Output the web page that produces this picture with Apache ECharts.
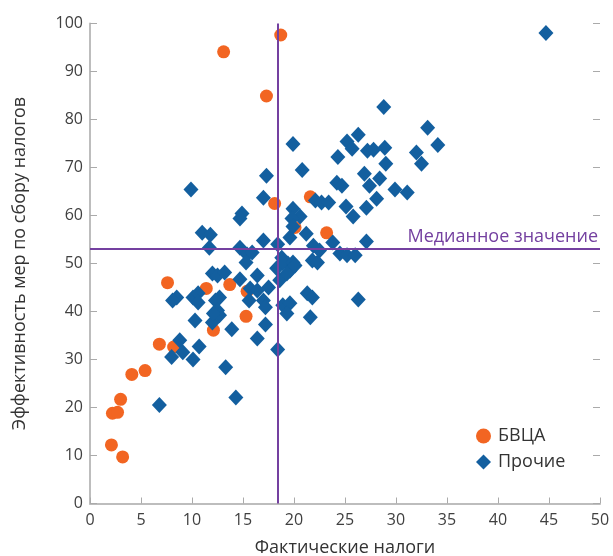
<!DOCTYPE html>
<html><head><meta charset="utf-8">
<script src="https://cdn.jsdelivr.net/npm/echarts@6/dist/echarts.min.js"></script>
<style>html,body{margin:0;padding:0;background:#fff}#c{width:613px;height:556px}</style>
</head><body><div id="c"></div>
<script>
const seriesNames = ['БВЦА', 'Прочие'];
const bvcaPoints = [
  [13.1,94.1],[18.7,97.6],[17.3,84.9],[18.1,62.5],[21.6,63.9],[20.1,57.5],[23.2,56.4],
  [7.6,46.0],[11.4,44.8],[13.7,45.6],[15.4,44.2],[15.3,39.0],[12.1,36.1],[6.8,33.2],
  [8.2,32.6],[4.1,26.9],[5.4,27.7],[3.0,21.7],[2.2,18.8],[2.7,19.0],[2.1,12.2],[3.2,9.7]
];
const otherPoints = [
  [44.7,98.0],[28.8,82.6],[33.1,78.3],[34.1,74.7],[26.3,76.8],[25.2,75.4],[25.7,73.9],
  [27.2,73.5],[27.8,73.7],[28.9,74.1],[24.3,72.2],[32.0,73.1],[32.5,70.8],[29.0,70.8],
  [19.9,74.9],[20.8,69.5],[17.3,68.3],[26.9,68.7],[28.4,67.7],[27.4,66.2],[24.2,66.8],
  [24.7,66.2],[29.9,65.4],[31.1,64.8],[28.1,63.5],[17.0,63.7],[9.9,65.4],
  [22.1,63.1],[22.7,62.7],[23.4,62.7],[25.1,61.9],[27.1,61.6],[25.8,59.8],[19.9,61.4],
  [20.6,59.8],[19.8,59.4],[21.2,56.2],[19.6,55.4],[27.1,54.6],[17.0,54.8],[14.9,60.4],
  [14.7,59.4],[11.0,56.4],[11.8,56.0],[11.7,53.3],[14.7,53.3],[15.4,51.9],[15.9,52.3],
  [15.3,50.2],[18.4,54.0],[18.8,51.2],[18.3,49.0],[19.4,50.0],[21.9,53.7],[22.5,52.7],
  [21.8,50.6],[23.8,54.4],[24.5,52.1],[25.2,51.7],[26.0,51.7],[18.9,50.2],[19.9,50.2],
  [19.6,48.5],[18.6,46.5],[19.9,57.7],
  [12.0,47.9],[12.5,47.5],[13.2,48.1],[14.7,46.7],[16.4,47.5],[15.7,44.8],[17.5,45.0],
  [8.5,42.9],[10.1,42.9],[10.6,43.8],[12.7,42.9],[8.1,42.3],[10.6,41.9],[12.3,42.3],
  [12.5,40.2],[12.7,39.2],[15.6,42.3],[10.3,38.1],[12.0,37.7],[12.1,39.6],[17.0,42.3],
  [17.2,40.9],[18.9,41.3],[19.6,41.7],[19.3,39.6],[21.6,38.8],[21.3,43.8],[21.8,42.9],
  [19.3,47.9],[20.1,49.6],[22.3,50.2],[26.3,42.5],[16.4,44.4],
  [8.8,34.0],[8.0,30.5],[9.1,31.5],[10.1,30.0],[10.7,32.7],[13.9,36.3],[13.3,28.4],
  [14.3,22.1],[6.8,20.5],[16.4,34.4],[17.2,37.3],[18.4,32.1]
];
const medianX = 18.4;
const medianY = 53.1;
const medianLabel = 'Медианное значение';
const xTicks = [0,5,10,15,20,25,30,35,40,45,50];
const yTicks = [0,10,20,30,40,50,60,70,80,90,100];
const xName = 'Фактические налоги';
const yName = 'Эффективность мер по сбору налогов';

const FONT = 'Open Sans';
const chart = echarts.init(document.getElementById('c'), null, {renderer:'canvas'});
const axisText = {color:'#404040', fontSize:16, fontFamily:FONT};
chart.setOption({
  animation:false,
  textStyle:{fontFamily:FONT},
  grid:{left:90, right:13, top:23.5, bottom:52.5, containLabel:false, outerBoundsMode:'none'},
  legend:{
    data:[{name:seriesNames[0], icon:'circle'},{name:seriesNames[1], icon:'diamond'}],
    orient:'vertical', left:471, top:422, itemWidth:15, itemHeight:15, itemGap:8,
    textStyle:{fontSize:18, color:'#333', fontFamily:FONT, lineHeight:16, padding:[0,0,0,2]}
  },
  xAxis:{
    type:'value', min:xTicks[0], max:xTicks[xTicks.length-1], interval:5,
    name:xName, nameLocation:'middle', nameGap:35,
    nameTextStyle:{fontSize:18, color:'#333', fontFamily:FONT},
    axisLine:{show:true, lineStyle:{color:'#bdbdbd', width:2}},
    axisTick:{show:true, inside:true, length:6, lineStyle:{color:'#aaa'}},
    axisLabel:Object.assign({margin:9}, axisText),
    splitLine:{show:false}
  },
  yAxis:[{
    type:'value', min:yTicks[0], max:yTicks[yTicks.length-1], interval:10,
    name:yName, nameLocation:'middle', nameGap:61, nameRotate:90,
    nameTextStyle:{fontSize:18, color:'#333', fontFamily:FONT},
    axisLine:{show:true, lineStyle:{color:'#bdbdbd', width:2}},
    axisTick:{show:true, inside:true, length:7, lineStyle:{color:'#aaa'}},
    axisLabel:Object.assign({margin:7}, axisText),
    splitLine:{show:false}
  },{
    type:'value', min:yTicks[0], max:yTicks[yTicks.length-1], interval:10, position:'right',
    axisLine:{show:false}, axisTick:{show:true, inside:true, length:7, lineStyle:{color:'#aaa'}},
    axisLabel:{show:false}, splitLine:{show:false}
  }],
  series:[
    {
      name:seriesNames[0], type:'scatter', data:bvcaPoints, symbol:'circle', symbolSize:13,
      itemStyle:{color:'#F26522', opacity:1}, z:2
    },
    {
      name:seriesNames[1], type:'scatter', data:otherPoints, symbol:'diamond', symbolSize:[15,16],
      itemStyle:{color:'#135F9F', opacity:1}, z:3,
      markLine:{
        silent:true, symbol:'none', z:10, animation:false,
        lineStyle:{color:'#7440A0', width:2, type:'solid'},
        data:[
          {xAxis:medianX, label:{show:false}},
          {yAxis:medianY, label:{show:true, formatter:medianLabel, position:'insideEndTop',
            color:'#7440A0', fontSize:18, fontFamily:FONT, distance:[2,3]}}
        ]
      }
    }
  ]
});
</script></body></html>
